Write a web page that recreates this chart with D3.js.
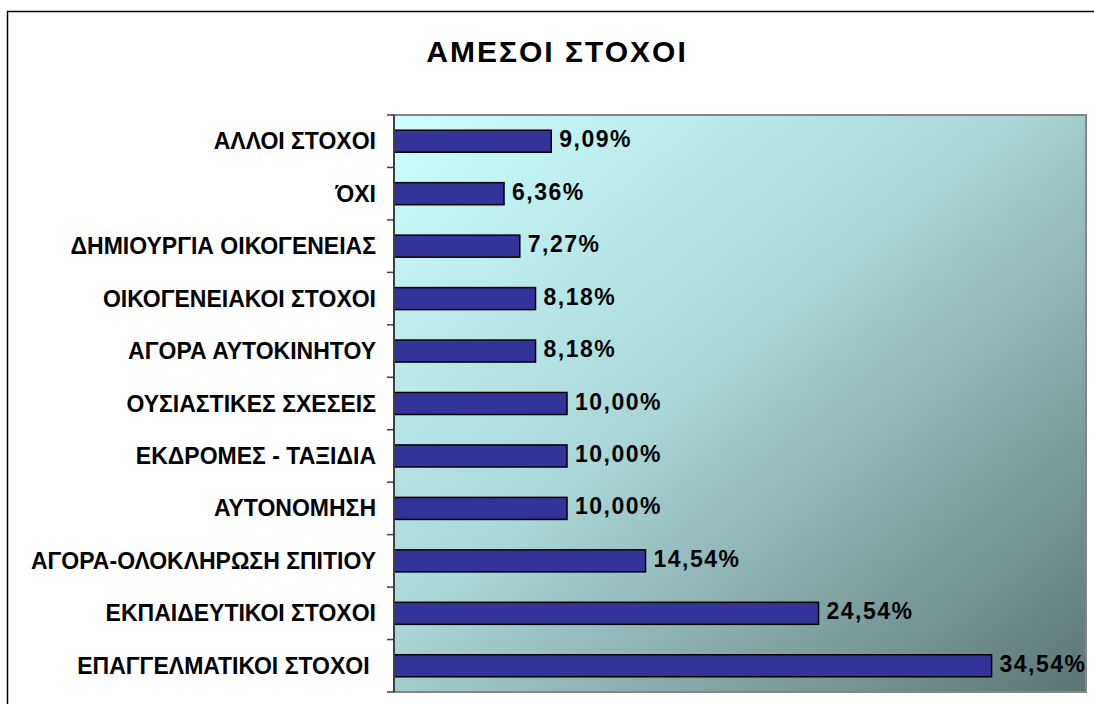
<!DOCTYPE html>
<html>
<head>
<meta charset="utf-8">
<script src="https://cdn.jsdelivr.net/npm/d3@7"></script>
<style>
  body { margin: 0; background: #fff; }
  text { font-family: "Liberation Sans", Arial, sans-serif; font-weight: bold; fill: #000; }
</style>
</head>
<body>
<div id="canvas"></div>
<script>
// categories top to bottom
var categories = [
  "ΑΛΛΟΙ ΣΤΟΧΟΙ",
  "ΌΧΙ",
  "ΔΗΜΙΟΥΡΓΙΑ ΟΙΚΟΓΕΝΕΙΑΣ",
  "ΟΙΚΟΓΕΝΕΙΑΚΟΙ ΣΤΟΧΟΙ",
  "ΑΓΟΡΑ ΑΥΤΟΚΙΝΗΤΟΥ",
  "ΟΥΣΙΑΣΤΙΚΕΣ ΣΧΕΣΕΙΣ",
  "ΕΚΔΡΟΜΕΣ - ΤΑΞΙΔΙΑ",
  "ΑΥΤΟΝΟΜΗΣΗ",
  "ΑΓΟΡΑ-ΟΛΟΚΛΗΡΩΣΗ ΣΠΙΤΙΟΥ",
  "ΕΚΠΑΙΔΕΥΤΙΚΟΙ ΣΤΟΧΟΙ",
  "ΕΠΑΓΓΕΛΜΑΤΙΚΟΙ ΣΤΟΧΟΙ\u00a0"
];
var values = [9.09, 6.36, 7.27, 8.18, 8.18, 10.00, 10.00, 10.00, 14.54, 24.54, 34.54];
var valueLabels = ["9,09%", "6,36%", "7,27%", "8,18%", "8,18%", "10,00%", "10,00%", "10,00%", "14,54%", "24,54%", "34,54%"];
var title = "ΑΜΕΣΟΙ ΣΤΟΧΟΙ";

var width = 1094, height = 704;
var plot = {left: 394, top: 115, right: 1086, bottom: 692};

var svg = d3.select("#canvas")
  .append("svg")
  .attr("width", width)
  .attr("height", height);

// chart frame
svg.append("rect")
  .attr("x", 7.5).attr("y", 11.5)
  .attr("width", width).attr("height", height)
  .attr("fill", "#fff")
  .attr("stroke", "#000")
  .attr("stroke-width", 1.5);

// background gradient
var grad = svg.append("defs").append("linearGradient")
  .attr("id", "bg")
  .attr("x1", 0).attr("y1", 0).attr("x2", 1).attr("y2", 1);
grad.append("stop").attr("offset", 0).attr("stop-color", "#ccffff");
grad.append("stop").attr("offset", 0.45).attr("stop-color", "#a9d6d6");
grad.append("stop").attr("offset", 1).attr("stop-color", "#5c7574");

var x = d3.scaleLinear().domain([0, 40]).range([plot.left, plot.right]);
var y = d3.scaleBand().domain(categories)
  .range([plot.top, plot.bottom])
  .paddingInner(0.58).paddingOuter(0.29);

// plot area
svg.append("rect")
  .attr("x", plot.left).attr("y", plot.top)
  .attr("width", plot.right - plot.left)
  .attr("height", plot.bottom - plot.top)
  .attr("fill", "url(#bg)")
  .attr("stroke", "#858585")
  .attr("stroke-width", 2);

// bars
svg.selectAll("rect.bar")
  .data(values)
  .enter()
  .append("rect")
  .attr("class", "bar")
  .attr("x", x(0))
  .attr("y", function(d, i) { return y(categories[i]); })
  .attr("width", function(d) { return x(d) - x(0); })
  .attr("height", y.bandwidth())
  .attr("fill", "#333399")
  .attr("stroke", "#000")
  .attr("stroke-width", 1.5);

// value labels
svg.selectAll("text.val")
  .data(values)
  .enter()
  .append("text")
  .attr("class", "val")
  .attr("x", function(d) { return x(d) + 8; })
  .attr("y", function(d, i) { return y(categories[i]) + y.bandwidth() / 2 + 6; })
  .attr("font-size", "23px")
  .attr("letter-spacing", "1.5px")
  .text(function(d, i) { return valueLabels[i]; });

// category axis: line + ticks at band edges
var step = y.step();
var edges = d3.range(categories.length + 1).map(function(i) { return plot.top + i * step; });
svg.append("line")
  .attr("x1", plot.left).attr("x2", plot.left)
  .attr("y1", plot.top).attr("y2", plot.bottom)
  .attr("stroke", "#404040")
  .attr("stroke-width", 2);
svg.selectAll("line.tick")
  .data(edges)
  .enter()
  .append("line")
  .attr("class", "tick")
  .attr("x1", plot.left - 7).attr("x2", plot.left)
  .attr("y1", function(d) { return d; })
  .attr("y2", function(d) { return d; })
  .attr("stroke", "#404040")
  .attr("stroke-width", 1.5);

svg.selectAll("text.cat")
  .data(categories)
  .enter()
  .append("text")
  .attr("class", "cat")
  .attr("x", plot.left - 18)
  .attr("y", function(d) { return y(d) + y.bandwidth() / 2 + 8; })
  .attr("text-anchor", "end")
  .attr("font-size", "23px")
  .text(function(d) { return d; });

// title
svg.append("text")
  .attr("x", 557)
  .attr("y", 62)
  .attr("text-anchor", "middle")
  .attr("font-size", "30px")
  .attr("letter-spacing", "2px")
  .text(title);
</script>
</body>
</html>
